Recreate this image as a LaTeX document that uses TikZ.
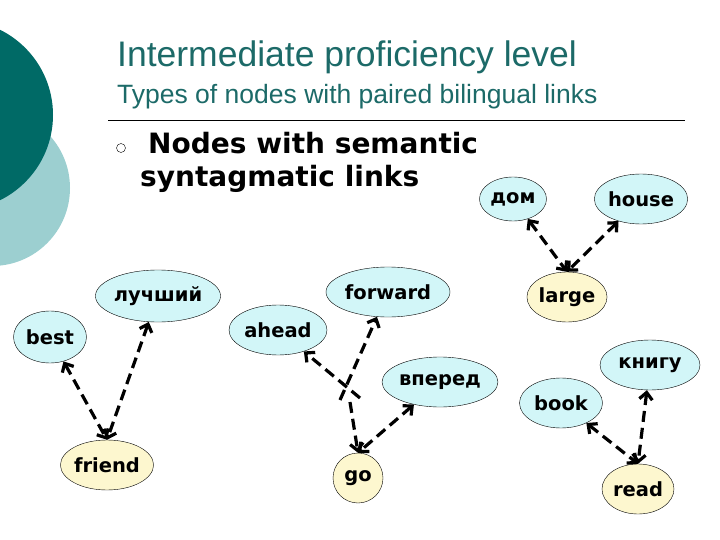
\documentclass[tikz,border=0pt]{standalone}
\usepackage{fontspec}
\setmainfont{Liberation Sans}
\newfontfamily\vb{DejaVu Sans}
\usetikzlibrary{arrows.meta,shapes.geometric}
\definecolor{teal1}{HTML}{006A66}
\definecolor{teal2}{HTML}{9CCFD0}
\definecolor{titlec}{HTML}{1C6A68}
\definecolor{cy}{HTML}{D2F6F8}
\definecolor{ye}{HTML}{FDF7CF}
\tikzset{
 wn/.style={ellipse,draw,thin,inner sep=0pt,font=\vb\bfseries\fontsize{19.5}{19.5}\selectfont},
 cyn/.style={wn,fill=cy},
 yen/.style={wn,fill=ye},
 lnk/.style={dash pattern=on 11pt off 6pt,line width=3.2pt,{Straight Barb[length=7pt,width=13pt]}-{Straight Barb[length=7pt,width=13pt]}},
 lnkh/.style={dash pattern=on 11pt off 6pt,line width=3.2pt,-{Straight Barb[length=7pt,width=13pt]}}
}
\begin{document}
\begin{tikzpicture}[x=1pt,y=-1pt]
\useasboundingbox (0,0) rectangle (720,540);
\fill[teal2] (-8,188) circle (78);
\fill[teal1] (-42,115) circle (95);
\node[anchor=base west,text=titlec,font=\fontsize{35.5}{35.5}\selectfont,inner sep=0pt] (t1) at (117,67) {Intermediate proficiency level};
\node[anchor=base west,text=titlec,font=\fontsize{26.5}{26.5}\selectfont,inner sep=0pt] (t2) at (117,104) {Types of nodes with paired bilingual links};
\draw[thin] (108,120) -- (685,120);
\node[circle,draw,thin,minimum size=9pt,inner sep=0pt] (bul) at (121,148) {};
\node[anchor=base west,font=\vb\bfseries\fontsize{28}{28}\selectfont,inner sep=0pt] (h1) at (148,154) {Nodes with semantic};
\node[anchor=base west,font=\vb\bfseries\fontsize{28}{28}\selectfont,inner sep=0pt] (h2) at (140,187) {syntagmatic links};

\node[cyn,minimum width=107pt,minimum height=52pt] (luch) at (158,296) {лучший};
\node[cyn,minimum width=73pt,minimum height=52pt] (best) at (50,337) {best};
\node[yen,minimum width=86pt,minimum height=50pt] (friend) at (107,465) {friend};
\node[cyn,minimum width=98pt,minimum height=50pt] (ahead) at (278,330) {ahead};
\node[cyn,minimum width=124pt,minimum height=50pt] (forward) at (388,292) {forward};
\node[cyn,minimum width=100pt,minimum height=50pt] (vpered) at (440,382) {вперед};
\node[yen,minimum width=50pt,minimum height=50pt] (go) at (358,478) {go};
\node[cyn,minimum width=67pt,minimum height=44pt] (dom) at (513,199) {дом};
\node[cyn,minimum width=84pt,minimum height=50pt] (house) at (641,199) {house};
\node[yen,minimum width=72pt,minimum height=50pt] (large) at (567,297) {large};
\node[cyn,minimum width=100pt,minimum height=50pt] (knigu) at (650,365) {книгу};
\node[cyn,minimum width=83pt,minimum height=50pt] (book) at (561,403) {book};
\node[yen,minimum width=72pt,minimum height=50pt] (read) at (638,489) {read};

\draw[lnk] (best) -- (friend.north);
\draw[lnk] (luch) -- (friend.north);
\draw[lnk] (dom) -- (large.north);
\draw[lnk] (house) -- (large.north);
\draw[lnk] (book) -- (read.north);
\draw[lnk] (knigu) -- (read.north);
\draw[lnk] (vpered) -- (go.north);
\coordinate (ca) at (360,398);
\coordinate (cf) at (340,400);
\coordinate (cg) at (350,402);
\draw[lnkh] (ca) -- (ahead);
\draw[lnkh] (cf) -- (forward);
\draw[lnkh] (cg) -- (go.north);
\end{tikzpicture}
\end{document}
